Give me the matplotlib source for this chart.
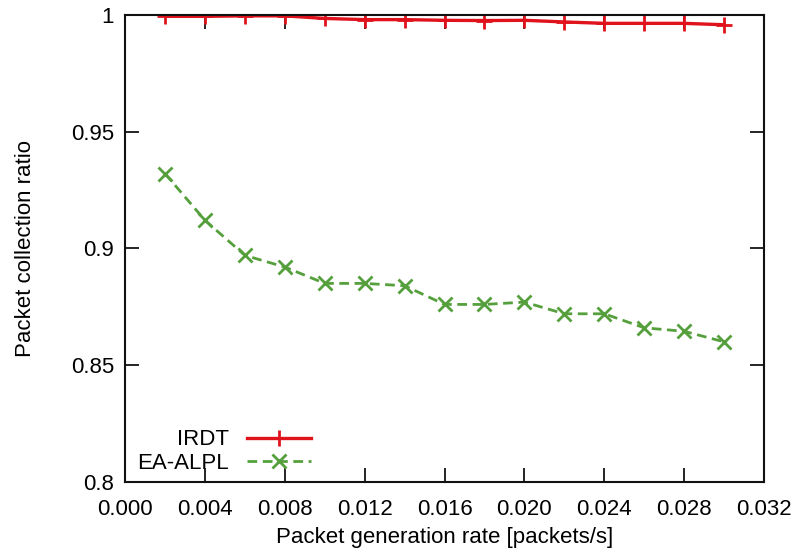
import matplotlib
matplotlib.use("Agg")
import matplotlib.pyplot as plt
from matplotlib.ticker import FuncFormatter, MultipleLocator

plt.rcParams['font.family'] = ['Liberation Sans', 'DejaVu Sans']

# packet generation rates and collection ratios
rates = [0.002, 0.004, 0.006, 0.008, 0.010, 0.012, 0.014, 0.016,
         0.018, 0.020, 0.022, 0.024, 0.026, 0.028, 0.030]
irdt = [0.9993, 0.9993, 0.9995, 0.9995, 0.9984, 0.9979, 0.9979, 0.9976,
        0.9975, 0.9976, 0.9969, 0.9963, 0.9963, 0.9963, 0.9957]
ea_alpl = [0.932, 0.912, 0.897, 0.892, 0.885, 0.885, 0.884, 0.876,
           0.876, 0.877, 0.872, 0.872, 0.866, 0.8645, 0.860]

FS = 16

fig = plt.figure(figsize=(7.97, 5.55), dpi=100)
ax = fig.add_axes([0.157, 0.1315, 0.8016, 0.842])

ax.plot(rates, irdt, color='#e0121c', lw=2.4, marker='+', ms=12, mew=2,
        label='IRDT')
ax.plot(rates, ea_alpl, color='#55a03c', lw=2, ls=(0, (3.5, 2)), marker='x',
        ms=10, mew=2, label='EA-ALPL')

ax.set_xlim(0, 0.032)
ax.set_ylim(0.8, 1.0)
ax.xaxis.set_major_locator(MultipleLocator(0.004))
ax.yaxis.set_major_locator(MultipleLocator(0.05))
ax.xaxis.set_major_formatter(FuncFormatter(lambda v, p: f"{v:.3f}"))
ax.yaxis.set_major_formatter(FuncFormatter(lambda v, p: f"{v:g}"))

ax.tick_params(direction='in', length=10, width=1.2, labelsize=FS,
               top=True, right=True)
ax.tick_params(axis='x', pad=12)
ax.tick_params(axis='y', pad=8)
for s in ax.spines.values():
    s.set_linewidth(1.5)
    s.set_color('#111111')

ax.set_xlabel('Packet generation rate [packets/s]', fontsize=FS, labelpad=5)
ax.set_ylabel('Packet collection ratio', fontsize=FS, labelpad=25)

ax.legend(loc='lower left', bbox_to_anchor=(-0.012, -0.025), frameon=False,
          markerfirst=False, numpoints=1, handlelength=2.9, fontsize=FS,
          labelspacing=0.1, handletextpad=0.8, borderaxespad=0.5)

fig.savefig('out.png', dpi=100)
